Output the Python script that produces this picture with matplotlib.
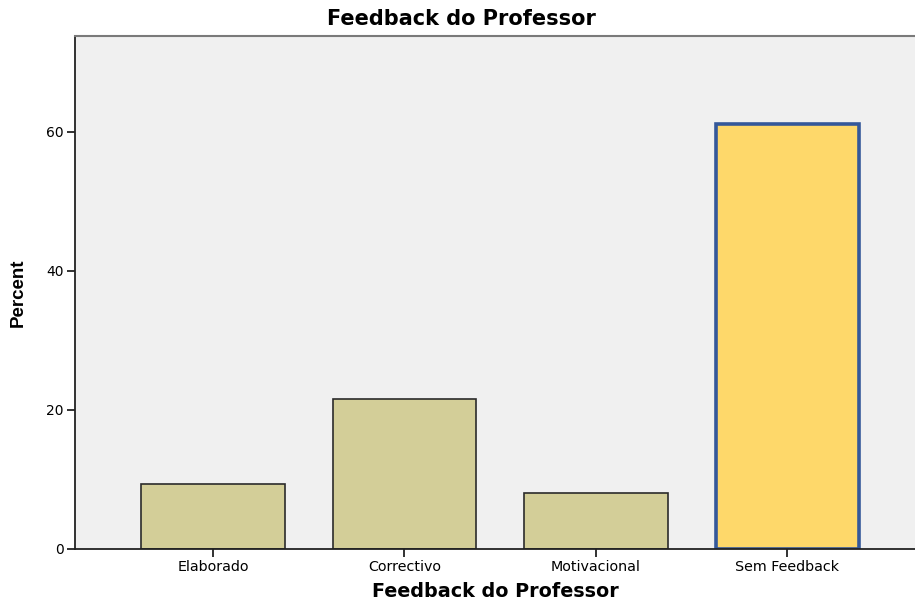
import matplotlib
matplotlib.use("Agg")
import matplotlib.pyplot as plt

# data
categories = ["Elaborado", "Correctivo", "Motivacional", "Sem Feedback"]
percents = [9.4, 21.6, 8.1, 61.2]
y_ticks = [0, 20, 40, 60]

plt.rcParams["font.family"] = ["DejaVu Sans"]

fig = plt.figure(figsize=(9.15, 6.05), dpi=100)
ax = fig.add_axes([75 / 915, 56 / 605, 840 / 915, 513 / 605])
ax.set_facecolor("#f0f0f0")

positions = list(range(len(categories)))
bars = ax.bar(positions, percents, width=0.75,
              color="#d3ce98", edgecolor="#2b2b2b", linewidth=1.2, zorder=2)

# the highlighted bar
bars[3].set_facecolor("#fed86a")
bars[3].set_edgecolor("#34589a")
bars[3].set_linewidth(2.6)

ax.set_xlim(-0.72, 3.666)
ax.set_ylim(0, 73.8)
ax.set_xticks(positions)
ax.set_xticklabels(categories, fontsize=10.3)
ax.set_yticks(y_ticks)
ax.set_yticklabels([str(t) for t in y_ticks], fontsize=10)

ax.tick_params(axis="both", direction="out", length=6, width=1.3,
               color="#222222", pad=2)

ax.spines["right"].set_visible(False)
ax.spines["top"].set_color("#7a7a7a")
ax.spines["top"].set_linewidth(1.5)
ax.spines["left"].set_color("#222222")
ax.spines["left"].set_linewidth(1.3)
ax.spines["bottom"].set_color("#222222")
ax.spines["bottom"].set_linewidth(1.3)

ax.set_xlabel("Feedback do Professor", fontsize=13.8, fontweight="bold", labelpad=6)
ax.set_ylabel("Percent", fontsize=13.5, fontweight="bold", labelpad=14,
              family=["Liberation Sans", "DejaVu Sans"])

fig.text(0.504, 1 - 19 / 605, "Feedback do Professor", ha="center", va="center",
         fontsize=15, fontweight="bold")

fig.savefig("out.png", dpi=100)
